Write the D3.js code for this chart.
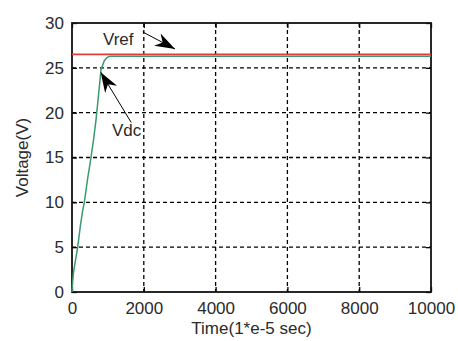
<!DOCTYPE html>
<html><head><meta charset="utf-8">
<script src="https://cdn.jsdelivr.net/npm/d3@7"></script>
<style>body{margin:0;background:#fff}svg{display:block}</style>
</head><body>
<script>
const xTicks = [0, 2000, 4000, 6000, 8000, 10000];
const yTicks = [0, 5, 10, 15, 20, 25, 30];
const vrefTime = [0, 10000];
const vrefValue = [26.5, 26.5];
const vdcTime = [0, 20, 42, 100, 159, 230, 298, 343, 430, 529, 600, 669, 740, 808, 900, 960, 994, 1060, 1300, 10000];
const vdcValue = [0, 1.2, 2.2, 3.6, 5, 7.3, 9.1, 10, 12.5, 15, 17, 19.2, 22, 24.8, 25.8, 26.1, 26.2, 26.3, 26.3, 26.3];

const W = 458, H = 341;
const m = {l: 72, r: 431, t: 23, b: 292};
const svg = d3.select("body").append("svg").attr("width", W).attr("height", H);
const x = d3.scaleLinear().domain([0, 10000]).range([m.l, m.r]);
const y = d3.scaleLinear().domain([0, 30]).range([m.b, m.t]);
const font = "Liberation Sans, Arial, sans-serif";
const txt = "#2a2a2a";

// grid
const g = svg.append("g");
g.selectAll(".gx").data(xTicks.slice(1, -1)).join("line")
  .attr("x1", d => x(d)).attr("x2", d => x(d)).attr("y1", m.t).attr("y2", m.b)
  .attr("stroke", "#000").attr("stroke-width", 1.3).attr("stroke-dasharray", "4,3");
g.selectAll(".gy").data(yTicks.slice(1, -1)).join("line")
  .attr("y1", d => y(d)).attr("y2", d => y(d)).attr("x1", m.l).attr("x2", m.r)
  .attr("stroke", "#000").attr("stroke-width", 1.3).attr("stroke-dasharray", "4,3");

// axes with inward ticks
const xa = d3.axisBottom(x).tickValues(xTicks).tickSize(-5).tickPadding(10).tickFormat(d3.format("d"));
const ya = d3.axisLeft(y).tickValues(yTicks).tickSize(-5).tickPadding(8);
const xg = svg.append("g").attr("transform", `translate(0,${m.b})`).call(xa);
const yg = svg.append("g").attr("transform", `translate(${m.l},0)`).call(ya);
const xt = svg.append("g").attr("transform", `translate(0,${m.t})`).call(d3.axisTop(x).tickValues(xTicks).tickSize(-5).tickFormat(""));
const yr = svg.append("g").attr("transform", `translate(${m.r},0)`).call(d3.axisRight(y).tickValues(yTicks).tickSize(-5).tickFormat(""));
[xg, yg, xt, yr].forEach(a => {
  a.select(".domain").remove();
  a.selectAll("line").attr("stroke", "#000").attr("stroke-width", 1.3);
  a.selectAll("text").attr("font-family", font).attr("font-size", 17).attr("fill", txt);
});
xg.selectAll("text").attr("dy", "0.71em");

// frame
svg.append("rect").attr("x", m.l).attr("y", m.t).attr("width", m.r - m.l).attr("height", m.b - m.t)
  .attr("fill", "none").attr("stroke", "#111").attr("stroke-width", 1.8);

// lines
const line = d3.line().x(d => x(d[0])).y(d => y(d[1]));
svg.append("path").datum(vdcTime.map((t, i) => [t, vdcValue[i]]))
  .attr("d", line).attr("fill", "none").attr("stroke", "#3a9a6e").attr("stroke-width", 1.5);
svg.append("path").datum(vrefTime.map((t, i) => [t, vrefValue[i]]))
  .attr("d", line).attr("fill", "none").attr("stroke", "#e63a3a").attr("stroke-width", 1.8);

// annotations
const defs = svg.append("defs");
defs.append("marker").attr("id", "ah2").attr("viewBox", "0 0 20 14").attr("refX", 20).attr("refY", 7)
  .attr("markerWidth", 20).attr("markerHeight", 14).attr("markerUnits", "userSpaceOnUse").attr("orient", "auto")
  .append("path").attr("d", "M0,0 L20,7 L0,14 L6,7 Z").attr("fill", "#000");

svg.append("text").attr("x", 103).attr("y", 45).text("Vref")
  .attr("font-family", font).attr("font-size", 17).attr("fill", txt);
svg.append("line").attr("x1", x(1970)).attr("y1", y(29.0)).attr("x2", x(2870)).attr("y2", y(27.1))
  .attr("stroke", "#000").attr("stroke-width", 1).attr("marker-end", "url(#ah2)");

svg.append("text").attr("x", 112).attr("y", 136).text("Vdc")
  .attr("font-family", font).attr("font-size", 17).attr("fill", txt);
svg.append("line").attr("x1", x(1650)).attr("y1", y(18.9)).attr("x2", x(800)).attr("y2", y(24.5))
  .attr("stroke", "#000").attr("stroke-width", 1).attr("marker-end", "url(#ah2)");

// axis titles
svg.append("text").attr("x", (m.l + m.r) / 2).attr("y", 334).attr("text-anchor", "middle")
  .text("Time(1*e-5 sec)").attr("font-family", font).attr("font-size", 17).attr("fill", txt);
svg.append("text").attr("transform", `translate(28,${(m.t + m.b) / 2}) rotate(-90)`).attr("text-anchor", "middle")
  .text("Voltage(V)").attr("font-family", font).attr("font-size", 17).attr("fill", txt);
</script>
</body></html>
